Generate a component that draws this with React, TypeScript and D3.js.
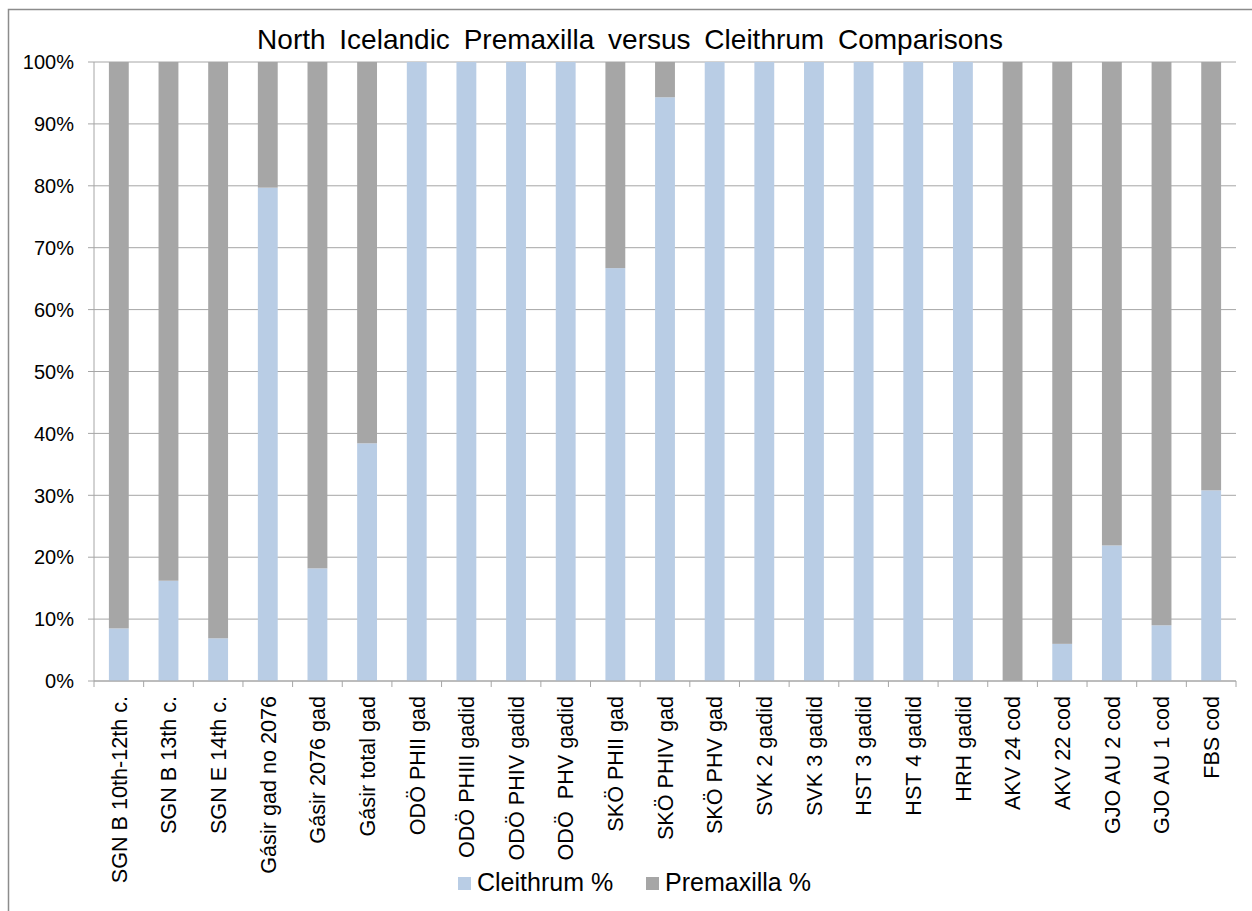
import React from "react"
import * as d3 from "d3"

// category labels along the x axis
const categories = [
  "SGN B 10th-12th c.",
  "SGN B 13th c.",
  "SGN E 14th c.",
  "Gásir gad no 2076",
  "Gásir 2076 gad",
  "Gásir total gad",
  "ODÖ PHII gad",
  "ODÖ PHIII gadid",
  "ODÖ PHIV gadid",
  "ODÖ  PHV gadid",
  "SKÖ PHII gad",
  "SKÖ PHIV gad",
  "SKÖ PHV gad",
  "SVK 2 gadid",
  "SVK 3 gadid",
  "HST 3 gadid",
  "HST 4 gadid",
  "HRH gadid",
  "AKV 24 cod",
  "AKV 22 cod",
  "GJO AU 2 cod",
  "GJO AU 1 cod",
  "FBS cod",
]

// share of cleithrum (%), premaxilla is the rest up to 100
const cleithrum = [
  8.5, 16.2, 6.9, 79.7, 18.2, 38.4, 100, 100, 100, 100, 66.7, 94.3, 100, 100, 100, 100, 100, 100, 0, 6.0,
  21.9, 9.0, 30.8,
]
const premaxilla = cleithrum.map((c) => 100 - c)

const yTicks = [0, 10, 20, 30, 40, 50, 60, 70, 80, 90, 100]

const seriesNames = ["Cleithrum %", "Premaxilla %"]
const COLORS = ["#b9cde5", "#a6a6a6"]

const W = 1252
const H = 911
const margin = { left: 94, right: 16, top: 62, bottom: 230 }
const FONT = "'Liberation Sans', Arial, sans-serif"

export default function App() {
  const x = d3
    .scaleBand<string>()
    .domain(categories)
    .range([margin.left, W - margin.right])
    .paddingInner(0.6)
    .paddingOuter(0.3)
  const y = d3
    .scaleLinear()
    .domain([0, 100])
    .range([H - margin.bottom, margin.top])

  const stackData = categories.map((c, i) => ({ cat: c, c: cleithrum[i], p: premaxilla[i] }))
  const stacked = d3.stack<{ cat: string; c: number; p: number }>().keys(["c", "p"])(stackData)

  const step = x.step()
  const x0 = margin.left
  const x1 = W - margin.right
  const yBase = y(0)

  return (
    <svg
      width={W}
      height={H}
      style={{ position: "absolute", left: 0, top: 0, background: "#fff", fontFamily: FONT }}
    >
      {/* outer frame */}
      <path d={`M8.5,${H} V9.5 H${W}`} fill="none" stroke="#8c8c8c" strokeWidth={1.5} />

      {/* title */}
      <text x={630} y={49} textAnchor="middle" fontSize={28} wordSpacing={6} fill="#000">
        North Icelandic Premaxilla versus Cleithrum Comparisons
      </text>

      {/* gridlines + y labels */}
      {yTicks.map((t) => (
        <g key={t}>
          <line x1={x0 - 6} x2={x1} y1={y(t)} y2={y(t)} stroke="#a6a6a6" strokeWidth={1} />
          <text x={74} y={y(t)} dy="0.36em" textAnchor="end" fontSize={20} fill="#000">
            {t}%
          </text>
        </g>
      ))}
      <line x1={x0} x2={x0} y1={margin.top} y2={yBase} stroke="#a6a6a6" strokeWidth={1} />

      {/* bars */}
      {stacked.map((s, si) => (
        <g key={s.key} fill={COLORS[si]}>
          {s.map((d) => (
            <rect
              key={d.data.cat}
              x={x(d.data.cat)}
              width={x.bandwidth()}
              y={y(d[1])}
              height={Math.max(0, y(d[0]) - y(d[1]))}
            />
          ))}
        </g>
      ))}

      {/* x axis */}
      <line x1={x0} x2={x1} y1={yBase} y2={yBase} stroke="#a6a6a6" strokeWidth={1} />
      {d3.range(categories.length + 1).map((i) => (
        <line
          key={i}
          x1={x0 + i * step}
          x2={x0 + i * step}
          y1={yBase}
          y2={yBase + 6}
          stroke="#a6a6a6"
          strokeWidth={1}
        />
      ))}
      {categories.map((c) => {
        const cx = (x(c) ?? 0) + x.bandwidth() / 2
        return (
          <text
            key={c}
            transform={`translate(${cx},${696}) rotate(-90)`}
            dy="0.36em"
            textAnchor="end"
            fontSize={21.6}
            fill="#000"
            style={{ whiteSpace: "pre" }}
          >
            {c}
          </text>
        )
      })}

      {/* legend */}
      {seriesNames.map((n, i) => {
        const lx = i === 0 ? 458 : 646
        return (
          <g key={n}>
            <rect x={lx} y={877} width={13} height={13} fill={COLORS[i]} />
            <text x={lx + 19} y={891} fontSize={25} fill="#000">
              {n}
            </text>
          </g>
        )
      })}
    </svg>
  )
}
